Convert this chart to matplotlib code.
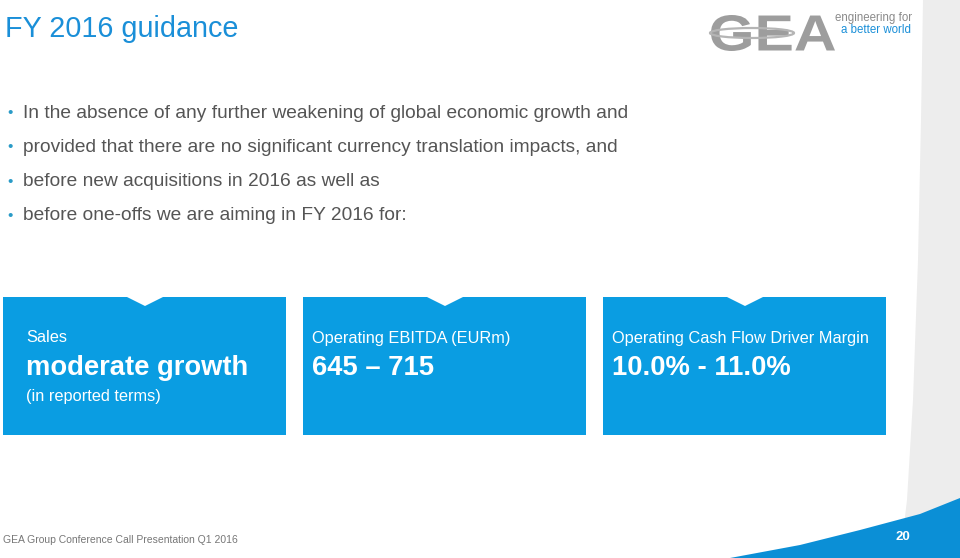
import matplotlib.pyplot as plt
from matplotlib.patches import Rectangle, Polygon, Ellipse, PathPatch
from matplotlib.textpath import TextPath
from matplotlib.font_manager import FontProperties
from matplotlib.transforms import Affine2D

plt.rcParams['font.family'] = ['Liberation Sans', 'DejaVu Sans']

title = "FY 2016 guidance"
bullets = [
    "In the absence of any further weakening of global economic growth and",
    "provided that there are no significant currency translation impacts, and",
    "before new acquisitions in 2016 as well as",
    "before one-offs we are aiming in FY 2016 for:",
]
box_titles = ["Sales", "Operating EBITDA (EURm)", "Operating Cash Flow Driver Margin"]
box_values = ["moderate growth", "645 \u2013 715", "10.0% - 11.0%"]
box_notes = ["(in reported terms)", "", ""]
footer = "GEA Group Conference Call Presentation Q1 2016"
page = "20"

blue = "#0a9de2"
grey_text = "#555555"

fig = plt.figure(figsize=(9.6, 5.58), dpi=100)
ax = fig.add_axes([0, 0, 1, 1])
ax.set_xlim(0, 960)
ax.set_ylim(558, 0)
ax.axis("off")

# right-hand grey strip (slightly curved edge) and bottom swoosh
ax.add_patch(Polygon([(923, 0), (960, 0), (960, 558), (900, 558), (907, 500), (913, 400),
                      (918, 260), (921, 120)], closed=True,
                     facecolor="#ededed", edgecolor="none"))
ax.add_patch(Polygon([(730, 558), (800, 545), (860, 530), (920, 514), (960, 498), (960, 558)],
                     closed=True, facecolor="#0b8fd6", edgecolor="none"))

# title
ax.text(5, 29, title, color="#1a8fd8", fontsize=20.7, va="center", ha="left")

# logo: stretched "GEA" lettering
tp = TextPath((0, 0), "GEA", size=10, prop=FontProperties(family="Liberation Sans", weight="bold"))
ext = tp.get_extents()
sx = (835 - 711) / ext.width
sy = (51 - 15) / ext.height
tr = Affine2D().translate(-ext.x0, -ext.y0).scale(sx, -sy).translate(711, 51) + ax.transData
ax.add_patch(PathPatch(tp, facecolor="#9d9d9d", edgecolor="none", transform=tr))
ax.add_patch(Ellipse((752, 33), 84, 10, facecolor="none", edgecolor="#b5b5b5", lw=1.6))
ax.text(835, 18, "engineering for", color="#8a8a8a", fontsize=8.3, va="center", ha="left")
ax.text(841, 30, "a better world", color="#1a8fd8", fontsize=8.3, va="center", ha="left")

# bullets
for i, line in enumerate(bullets):
    y = 113 + i * 34.3
    ax.text(7, y, "\u2022", color="#2a9bc7", fontsize=11, va="center", ha="left")
    ax.text(23, y, line, color=grey_text, fontsize=13.75, va="center", ha="left")

# boxes
for i in range(3):
    x0 = 3 + i * 300
    ax.add_patch(Rectangle((x0, 297), 283, 138, facecolor=blue, edgecolor="none"))
    cx = x0 + 142
    ax.add_patch(Polygon([(cx - 18, 297), (cx + 18, 297), (cx, 306)], closed=True,
                         facecolor="white", edgecolor="none"))
    tx = x0 + 23 if i == 0 else x0 + 9
    ax.text(tx, 338, box_titles[i], color="white", fontsize=11.8, va="center", ha="left")
    ax.text(tx, 368, box_values[i], color="white", fontsize=19.7,
            fontweight="bold", va="center", ha="left")
    if box_notes[i]:
        ax.text(tx, 396, box_notes[i], color="white", fontsize=11.8, va="center", ha="left")

# footer
ax.text(3, 540, footer, color="#777777", fontsize=7.5, va="center", ha="left")
ax.text(903, 537, page, color="white", fontsize=9.5, fontweight="bold", va="center", ha="center")

fig.savefig("out.png", dpi=100)
